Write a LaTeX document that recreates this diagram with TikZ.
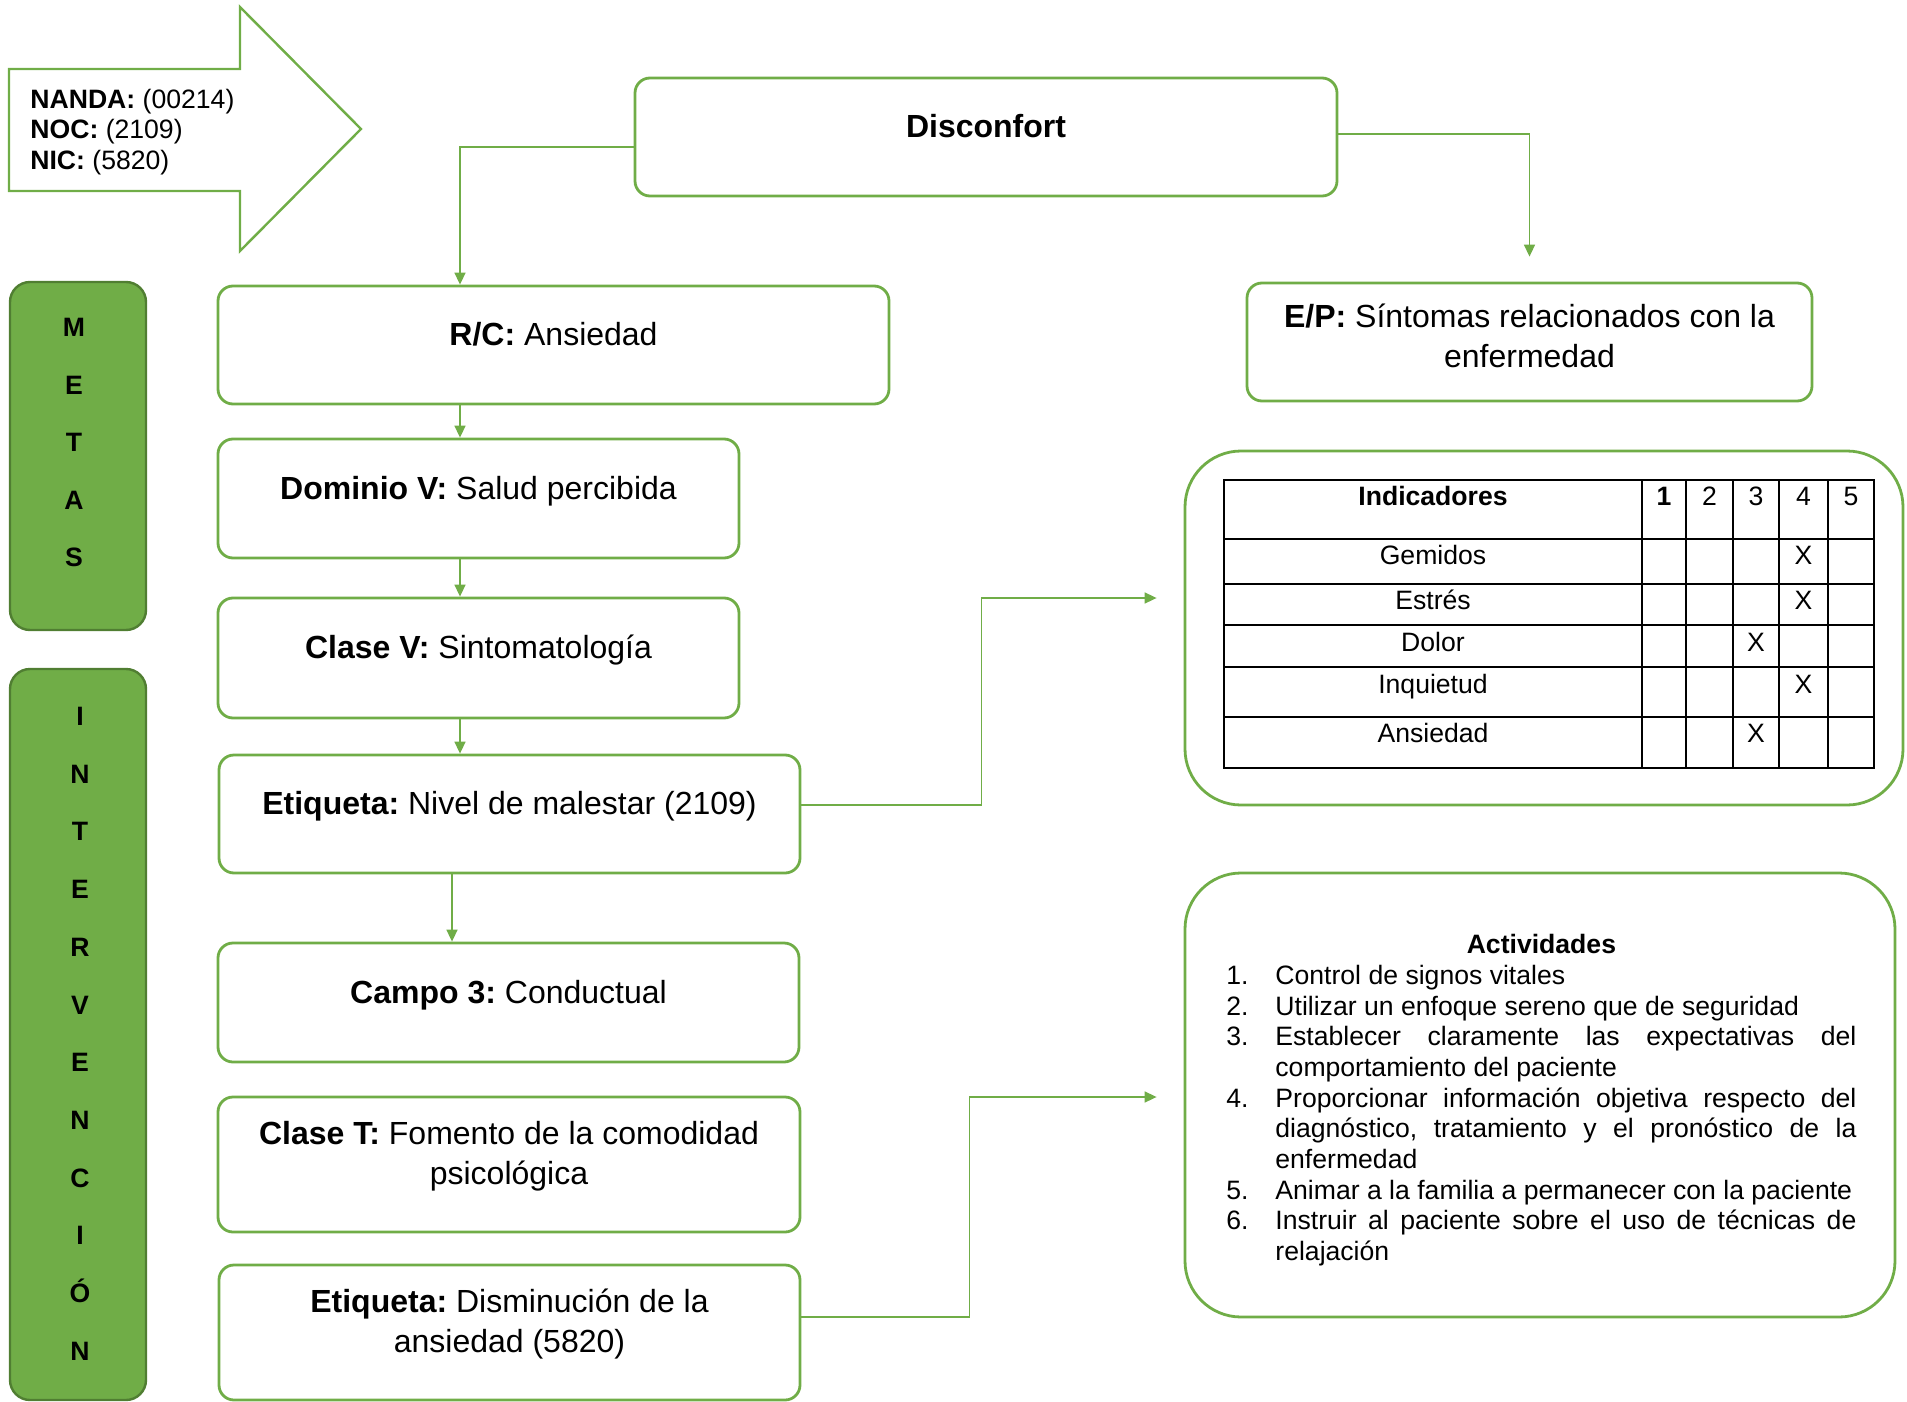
\documentclass[tikz,border=0pt]{standalone}
\usepackage{fontspec}
\setmainfont{Liberation Sans}
\usetikzlibrary{arrows.meta}
\definecolor{verde}{HTML}{70AD47}
\definecolor{verdeosc}{HTML}{507E32}
\hyphenpenalty=10000
\frenchspacing
\tikzset{
  caja/.style={draw=verde, line width=1.4pt, rounded corners=7.5pt, inner sep=0pt},
  cajagrande/.style={draw=verde, line width=1.4pt, rounded corners=28pt, inner sep=0pt},
  lateral/.style={draw=verdeosc, fill=verde, line width=1.2pt, rounded corners=10pt,
    inner sep=0pt, minimum width=68pt},
  texto/.style={font=\fontsize{16}{20}\selectfont, align=center, inner sep=0pt},
  texto1/.style={texto, text height=12pt, text depth=3.5pt},
  letra/.style={font=\fontsize{13.3}{15}\selectfont\bfseries, text height=9.5pt,
    text depth=0pt, inner sep=0pt},
  celda/.style={font=\fontsize{13.3}{15}\selectfont, text height=9.5pt,
    text depth=0pt, inner sep=0pt},
  enlace/.style={draw=verde, line width=0.8pt, -{Triangle[length=6pt,width=5.5pt]}},
}
\newcommand\actitem[2]{\par\noindent\hangindent=24.5pt\hangafter=1%
  \makebox[24.5pt][l]{#1.}#2}
\begin{document}
\begin{tikzpicture}[x=0.5pt, y=-0.5pt]
    \useasboundingbox (0,0) rectangle (1907,1402);

    % flecha de códigos
    \draw[draw=verde, line width=1.2pt] (9,69) -- (240,69) -- (240,7) -- (361,129)
        -- (240,251) -- (240,191) -- (9,191) -- cycle;
    \node[anchor=west, align=left, inner sep=0pt,
          font=\fontsize{13.3}{15.2}\selectfont] (codigos) at (30,132)
        {\textbf{NANDA:} (00214)\\ \textbf{NOC:} (2109)\\ \textbf{NIC:} (5820)};

    % cajas
    \node[caja, minimum width=351pt, minimum height=59pt] (disc) at (986,137) {};
    \node[texto1] (disc-t) at ([yshift=4pt]disc.center) {\textbf{Disconfort}};
    \node[caja, minimum width=335.5pt, minimum height=59pt] (rc) at (553.5,345) {};
    \node[texto1] (rc-t) at ([yshift=4pt]rc.center) {\textbf{R/C:} Ansiedad};
    \node[caja, minimum width=260.5pt, minimum height=59.5pt] (dom) at (478.5,498.5) {};
    \node[texto1] (dom-t) at ([yshift=4pt]dom.center) {\textbf{Dominio V:} Salud percibida};
    \node[caja, minimum width=260.5pt, minimum height=60pt] (clasev) at (478.5,658) {};
    \node[texto1] (clasev-t) at ([yshift=4pt]clasev.center) {\textbf{Clase V:} Sintomatología};
    \node[caja, minimum width=290.5pt, minimum height=59pt] (etq) at (509.5,814) {};
    \node[texto1] (etq-t) at ([yshift=4pt]etq.center) {\textbf{Etiqueta:} Nivel de malestar (2109)};
    \node[caja, minimum width=290.5pt, minimum height=59.5pt] (campo) at (508.5,1002.5) {};
    \node[texto1] (campo-t) at ([yshift=4pt]campo.center) {\textbf{Campo 3:} Conductual};
    \node[caja, minimum width=291pt, minimum height=67.5pt] (claset) at (509,1164.5) {};
    \node[texto] (claset-t) at ([yshift=4pt]claset.center)
        {\textbf{Clase T:} Fomento de la comodidad\\ psicológica};
    \node[caja, minimum width=290.5pt, minimum height=67.5pt] (etq2) at (509.5,1332.5) {};
    \node[texto] (etq2-t) at ([yshift=4pt]etq2.center)
        {\textbf{Etiqueta:} Disminución de la\\ ansiedad (5820)};
    \node[caja, minimum width=282.5pt, minimum height=59pt] (ep) at (1529.5,342) {};
    \node[texto] (ep-t) at ([yshift=3pt]ep.center)
        {\textbf{E/P:} Síntomas relacionados con la\\ enfermedad};

    % metas e intervención
    \node[lateral, minimum height=174pt] (metas) at (78,456) {};
    \foreach \l [count=\i] in {M,E,T,A,S}
        \node[letra] (metas-\i) at (74,{327+57.5*(\i-1)}) {\l};
    \node[lateral, minimum height=365.5pt] (interv) at (78,1034.5) {};
    \foreach \l [count=\i] in {I,N,T,E,R,V,E,N,C,I,Ó,N}
        \node[letra] (interv-\i) at (80,{716+57.7*(\i-1)}) {\l};

    % tabla de indicadores
    \node[cajagrande, minimum width=359pt, minimum height=177pt] (tbox) at (1544,628) {};
    \draw[line width=0.9pt] (1224,480) rectangle (1874,768);
    \foreach \x in {1642,1686,1733,1779,1828}
        \draw[line width=0.9pt] (\x,480) -- (\x,768);
    \foreach \y in {539,584,625,667,717}
        \draw[line width=0.9pt] (1224,\y) -- (1874,\y);
    \node[celda] (ind-0) at (1433,496) {\textbf{Indicadores}};
    \node[celda] (n-1) at (1664,496) {\textbf{1}};
    \foreach \n/\x in {2/1709.5,3/1756,4/1803.5,5/1851}
        \node[celda] (n-\n) at (\x,496) {\n};
    \foreach \nom/\y/\x [count=\i] in {Gemidos/555/1803.5, Estrés/600/1803.5,
        Dolor/642/1756, Inquietud/684/1803.5, Ansiedad/733/1756} {
        \node[celda] (ind-\i) at (1433,\y) {\nom};
        \node[celda] (x-\i) at (\x,\y) {X};
    }

    % actividades
    \node[cajagrande, minimum width=355pt, minimum height=222pt] (act) at (1540,1095) {};
    \node[anchor=north west, inner sep=0pt, text width=315pt, align=justify,
          font=\fontsize{13.3}{15.35}\selectfont] (act-t) at (1226,934) {%
        \spaceskip=3.7pt plus 13pt minus 1pt
        {\centering\textbf{Actividades}\par}
        \actitem{1}{Control de signos vitales}
        \actitem{2}{Utilizar un enfoque sereno que de seguridad}
        \actitem{3}{Establecer claramente las expectativas del comportamiento del paciente}
        \actitem{4}{Proporcionar información objetiva respecto del diagnóstico, tratamiento y el pronóstico de la enfermedad}
        \actitem{5}{Animar a la familia a permanecer con la paciente}
        \actitem{6}{Instruir al paciente sobre el uso de técnicas de relajación}\par};

    % conectores
    \coordinate (col) at (460,0);
    \coordinate (col2) at (452,0);
    \draw[enlace] ([yshift=-5pt]disc.west) -| (rc.north -| col);
    \draw[enlace] ([yshift=1.5pt]disc.east) -| ([yshift=12.5pt]ep.north);
    \draw[enlace] (rc.south -| col) -- (dom.north -| col);
    \draw[enlace] (dom.south -| col) -- (clasev.north -| col);
    \draw[enlace] (clasev.south -| col) -- (etq.north -| col);
    \draw[enlace] (etq.south -| col2) -- (campo.north -| col2);
    \draw[enlace] ([yshift=4.5pt]etq.east) -- ++(180,0)
        |- ([xshift=-13.5pt,yshift=15pt]tbox.west);
    \draw[enlace] ([yshift=7.75pt]etq2.east) -- ++(168,0)
        |- ([xshift=-13.5pt,yshift=-1pt]act.west);
\end{tikzpicture}
\end{document}
